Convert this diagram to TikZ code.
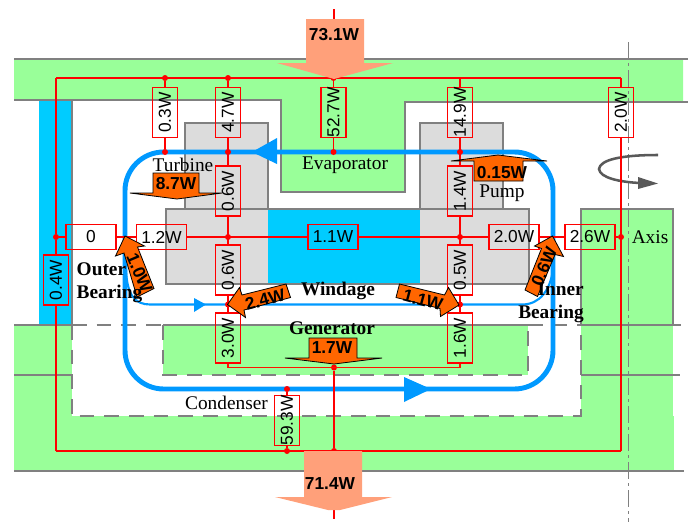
\documentclass[tikz,border=0pt]{standalone}
\usepackage{fontspec}
\setmainfont{Liberation Serif}
\setsansfont{Liberation Sans}
\usetikzlibrary{positioning}
\definecolor{wallgray}{HTML}{808080}
\definecolor{coldgreen}{HTML}{99FF99}
\definecolor{watercyan}{HTML}{00CCFF}
\definecolor{flowblue}{HTML}{0099FF}
\definecolor{blockgray}{HTML}{DCDCDC}
\definecolor{salmonin}{HTML}{FFA07A}
\definecolor{heatorange}{HTML}{FF6600}
\tikzstyle{res} = [draw=red, line width=1.2pt, inner sep=0pt, font=\sffamily\fontsize{13}{13}\selectfont,
 minimum width=37.5pt, minimum height=18.5pt]
\tikzstyle{vres} = [res, rotate=90]
\tikzstyle{line} = [red, line width=1.2pt]
\tikzstyle{dot} = [circle, fill=red, inner sep=0pt, minimum size=4.5pt]
\tikzstyle{wallline} = [wallgray, line width=1.4pt]
\tikzstyle{dashline} = [wallgray, line width=2.1pt, dash pattern=on 11pt off 7.5pt]
\tikzstyle{loopline} = [flowblue, line width=3.7pt, rounded corners=29pt]
\tikzstyle{power} = [font=\sffamily\bfseries\fontsize{13}{13}\selectfont, inner sep=0pt]
\tikzstyle{heatarrow} = [draw=black, fill=heatorange, line width=0.6pt]
\tikzstyle{part} = [font=\fontsize{14.5}{17}\selectfont, inner sep=0pt]
\tikzstyle{partb} = [font=\bfseries\fontsize{14.5}{17}\selectfont, inner sep=0pt]

\begin{document}
\begin{tikzpicture}[x=0.75pt, y=-0.75pt]
	\useasboundingbox (0,0) rectangle (691,522);
	
	% cold walls
	\fill [coldgreen] (14,60) -- (683,60) -- (683,102) -- (405,102) -- (405,192) -- (281,192) -- (281,100) -- (14,100) -- cycle;
	\fill [coldgreen] (14,325) rectangle (72,471);
	\fill [coldgreen] (72,416) rectangle (674,471);
	\fill [coldgreen] (581,209) rectangle (673,416);
	\fill [coldgreen] (163,325) rectangle (528,375);
	\fill [watercyan] (39,100) rectangle (72,324);
	
	% machine blocks
	\fill [blockgray] (185,123) rectangle (268,209);
	\fill [blockgray] (420,123) rectangle (503,209);
	\fill [blockgray] (166,209) rectangle (268,284);
	\fill [blockgray] (420,209) rectangle (529,284);
	\fill [watercyan] (268,209) rectangle (420,284);
	\draw [wallline] (185,209) |- (268,123) -- (268,209);
	\draw [wallline] (420,209) |- (503,123) -- (503,209);
	\draw [wallline] (268,284) -| (166,209) -- (529,209) |- (420,284);
	\draw [wallline] (268,284) -- (420,284);
	
	% wall outlines
	\draw [wallline] (14,59) -- (688,59);
	\draw [wallline] (14,100) -- (281,100) -- (281,192) -- (405,192) -- (405,102) -- (688,102);
	\draw [wallline] (72,100) -- (72,325);
	\draw [wallline] (14,325) -- (72,325);
	\draw [wallline] (163,325) -- (528,325);
	\draw [wallline] (581,325) -- (681,325);
	\draw [wallline] (14,375) -- (72,375);
	\draw [wallline] (581,375) -- (680,375);
	\draw [wallline] (14,471) -- (684,471);
	\draw [wallline] (581,325) |- (673,209) -- (673,325);
	\draw [dashline] (72,325) -- (163,325);
	\draw [dashline] (528,325) -- (581,325);
	\draw [dashline] (72,325) |- (581,416) -- (581,325);
	\draw [dashline] (163,325) |- (528,375) -- (528,325);
	\draw [wallgray, line width=1.4pt, dash pattern=on 13pt off 3pt on 2pt off 3pt] (628.5,42) -- (628.5,522);
	
	% coolant loop
	\draw [loopline] (125,152) rectangle (553,389);
	\draw [flowblue, line width=1.6pt] (126,270) .. controls (127,295) and (135,304.5) .. (150,304.5) -- (522,304.5) .. controls (540,304.5) and (550,290) .. (553,270);
	\fill [flowblue] (252,152) -- (277,138) -- (277,164) -- cycle;
	\fill [flowblue] (431,389) -- (404,377) -- (404,402) -- cycle;
	\fill [flowblue] (206,304.5) -- (194,298) -- (194,312) -- cycle;
	
	% rotation mark
	\draw [black!65, line width=1.9pt] (658,155) .. controls (620,155) and (600,160) .. (599,169) .. controls (600,178) and (620,182) .. (640,183);
	\fill [black!65] (658,183.5) -- (638,177) -- (638,189) -- cycle;
	
	% thermal network
	\node [vres] (r03) at (165,112.5) {0.3W};
	\node [vres] (r47) at (228,112.5) {4.7W};
	\node [vres] (r527) at (333.5,112.5) {52.7W};
	\node [vres] (r149) at (460,112.5) {14.9W};
	\node [vres] (r20top) at (621,112.5) {2.0W};
	\node [vres] (r06top) at (228,191) {0.6W};
	\node [vres] (r14) at (460,191) {1.4W};
	\node [vres] (r06low) at (228,270) {0.6W};
	\node [vres] (r05) at (460,270) {0.5W};
	\node [vres] (r30) at (228,338) {3.0W};
	\node [vres] (r16) at (460,338) {1.6W};
	\node [vres] (r593) at (287,420.5) {59.3W};
	\node [vres] (r04) at (56,280) {0.4W};
	\node [res] (r0) at (91,237) {0};
	\node [res] (r12) at (161.5,237) {1.2W};
	\node [res] (r11) at (333,237) {1.1W};
	\node [res] (r20) at (514,237) {2.0W};
	\node [res] (r26) at (590,237) {2.6W};
	
	\node [dot] (t1) at (165,78) {};
	\node [dot] (t2) at (228,78) {};
	\node [dot] (t3) at (333.5,78) {};
	\node [coordinate] (t4) at (460,78) {};
	\node [coordinate] (t5) at (621,78) {};
	\node [coordinate] (t0) at (56,78) {};
	\node [dot] (e1) at (165,152) {};
	\node [dot] (e2) at (228,152) {};
	\node [dot] (e3) at (333.5,152) {};
	\node [dot] (e4) at (460,152) {};
	\node [dot] (m0) at (56,237) {};
	\node [dot] (m1) at (228,237) {};
	\node [dot] (m2) at (460,237) {};
	\node [dot] (m3) at (621,237) {};
	\node [dot] (w1) at (228,304.5) {};
	\node [dot] (w2) at (460,304.5) {};
	\node [coordinate] (g1) at (228,367.5) {};
	\node [dot] (g2) at (334,367.5) {};
	\node [coordinate] (g3) at (460,367.5) {};
	\node [dot] (c1) at (287,389) {};
	\node [dot] (b1) at (287,451) {};
	\node [dot] (b2) at (334,451) {};
	\node [coordinate] (b0) at (56,451) {};
	\node [coordinate] (b3) at (621,451) {};
	\node [coordinate] (inA) at (334,9) {};
	\node [coordinate] (inB) at (334,19) {};
	\node [coordinate] (outA) at (334,508) {};
	\node [coordinate] (outB) at (334,519) {};
	
	\draw [line] (t0) -- (t5);
	\draw [line] (t0) -- (m0);
	\draw [line] (m0) -- (r04.east);
	\draw [line] (r04.west) -- (b0);
	\draw [line] (b0) -- (b3);
	\draw [line] (t5) -- (r20top.east);
	\draw [line] (r20top.west) -- (b3);
	\draw [line] (t1) -- (r03.east);
	\draw [line] (t2) -- (r47.east);
	\draw [line] (t3) -- (r527.east);
	\draw [line] (t4) -- (r149.east);
	\draw [line] (r03.west) -- (e1);
	\draw [line] (r47.west) -- (r06top.east);
	\draw [line] (r527.west) -- (e3);
	\draw [line] (r149.west) -- (r14.east);
	\draw [line] (r06top.west) -- (r06low.east);
	\draw [line] (r14.west) -- (r05.east);
	\draw [line] (r06low.west) -- (r30.east);
	\draw [line] (r05.west) -- (r16.east);
	\draw [line] (m0) -- (r0.west);
	\draw [line] (r0.east) -- (r12.west);
	\draw [line] (r12.east) -- (r11.west);
	\draw [line] (r11.east) -- (r20.west);
	\draw [line] (r20.east) -- (r26.west);
	\draw [line] (r26.east) -- (m3);
	\draw [red!85!orange, line width=0.9pt] (r30.west) -- (g1) -- (g3) -- (r16.west);
	\draw [line] (g2) -- (b2);
	\draw [line] (c1) -- (r593.east);
	\draw [line] (r593.west) -- (b1);
	\draw [line] (inA) -- (inB);
	\draw [line] (outA) -- (outB);
	
	% heat flows
	\fill [salmonin] (306,19) -- (364,19) -- (364,63) -- (393,63) -- (334,79) -- (277,63) -- (306,63) -- cycle;
	\fill [salmonin] (304,451) -- (362,451) -- (362,497) -- (392,497) -- (340,510) -- (328,510) -- (275,497) -- (304,497) -- cycle;
	\node [power] (pin) at (334,35) {73.1W};
	\node [power] (pout) at (330,484) {71.4W};
	
	\draw [heatarrow] (153,173) -- (199,173) -- (199,193) -- (222,193) -- (177,199) -- (130,193) -- (153,193) -- cycle;
	\draw [heatarrow] (474,181) -- (523,181) -- (523,161) -- (547,161) -- (498,155) -- (451,161) -- (474,161) -- cycle;
	\draw [heatarrow] (309,338) -- (357,338) -- (357,358) -- (382,358) -- (334,364) -- (285,358) -- (309,358) -- cycle;
	\draw [heatarrow] (125,236) -- (144.5,246) -- (137.5,247) -- (154,288.5) -- (137,297) -- (124,253) -- (115.5,256) -- cycle;
	\draw [heatarrow] (552.5,236) -- (563.5,256.5) -- (555,254.5) -- (537.5,296.5) -- (525,290) -- (541.5,248.5) -- (534.5,246) -- cycle;
	\draw [heatarrow] (227.5,304.5) -- (239.5,287.5) -- (242,295) -- (286,284) -- (290.5,297.5) -- (244,310) -- (245.5,317.5) -- cycle;
	\draw [heatarrow] (459,305) -- (448.5,287.5) -- (444.5,295) -- (399.5,284) -- (396,297.5) -- (440,308.5) -- (440.5,316.5) -- cycle;
	\node [power] (h87) at (176,184) {8.7W};
	\node [power] (h015) at (502,173) {0.15W};
	\node [power] (h17) at (332,348) {1.7W};
	\node [power, rotate=-67] (h10) at (139.5,273) {1.0W};
	\node [power, rotate=67] (h06) at (544,267) {0.6W};
	\node [power, rotate=15] (h24) at (265,299.5) {2.4W};
	\node [power, rotate=-15] (h11) at (423,300) {1.1W};
	
	% part names
	\node [part] (turbine) at (183,165) {Turbine};
	\node [part] (evaporator) at (345,165) {Evaporator};
	\node [part] (pump) at (502,193) {Pump};
	\node [part] (axis) at (650,237) {Axis};
	\node [part] (condenser) at (226.5,403) {Condenser};
	\node [partb, align=left] (outer) at (109.5,282.5) {Outer\\Bearing};
	\node [partb, align=right] (inner) at (551,302.5) {Inner\\Bearing};
	\node [partb] (windage) at (338,291) {Windage};
	\node [partb] (generator) at (332,328) {Generator};
\end{tikzpicture}
\end{document}
